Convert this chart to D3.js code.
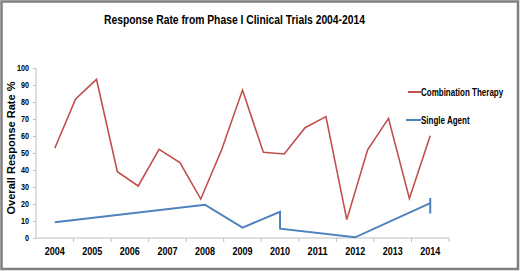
<!DOCTYPE html>
<html lang="en">
<head>
  <meta charset="UTF-8">
  <title>Response Rate from Phase I Clinical Trials 2004-2014</title>
  <script src="https://d3js.org/d3.v7.min.js"></script>
  <style>
    body { margin: 0; background: #fff; }
    svg { display: block; font-family: "Liberation Sans", Arial, sans-serif; font-weight: bold; }
  </style>
</head>
<body>
  <div id="chart"></div>
  <script>
    // years on the category axis
    const years = ["2004", "2005", "2006", "2007", "2008", "2009", "2010", "2011", "2012", "2013", "2014"];
    const yTicks = [0, 10, 20, 30, 40, 50, 60, 70, 80, 90, 100];

    // combination therapy: 19 evenly spaced readings over 2004-2014
    const comboValues = [52.8, 81.8, 93.3, 39, 30.6, 52.2, 44.3, 22.9, 51.9, 87,
                         50.4, 49.4, 64.9, 71.4, 10.8, 51.9, 70.4, 23.3, 60.2];

    // single agent: [year, value]
    const singleYears  = [2004, 2008, 2009, 2010, 2010, 2012, 2014, 2014, 2014];
    const singleValues = [9.2, 19.6, 6.1, 15.4, 5.5, 0.4, 20.5, 23.5, 14.4];

    const W = 520, H = 271;
    const plot = { left: 36, right: 449, top: 68, bottom: 238 };

    const svg = d3.select("#chart").append("svg")
      .attr("width", W).attr("height", H);

    // frame
    svg.append("rect")
      .attr("x", 1.5).attr("y", 1.5)
      .attr("width", W - 3.5).attr("height", H - 3.5)
      .attr("fill", "#fff").attr("stroke", "#7f7f7f").attr("stroke-width", 2.5);

    // narrow look: squeeze text to the width measured on the reference
    function squeeze(sel, w) {
      sel.attr("textLength", w).attr("lengthAdjust", "spacingAndGlyphs");
    }

    const x = d3.scaleBand().domain(years).range([plot.left, plot.right]);
    const xYear = d3.scaleLinear()
      .domain([2004, 2014])
      .range([x("2004") + x.bandwidth() / 2, x("2014") + x.bandwidth() / 2]);
    const xCombo = d3.scalePoint()
      .domain(d3.range(comboValues.length))
      .range(xYear.range());
    const y = d3.scaleLinear().domain([0, 100]).range([plot.bottom, plot.top]);

    // y axis
    const yAxis = svg.append("g")
      .attr("transform", `translate(${plot.left},0)`)
      .call(d3.axisLeft(y).tickValues(yTicks).tickSize(3).tickPadding(4));
    yAxis.selectAll("line, path").attr("stroke", "#bfbfbf");
    yAxis.select(".domain").attr("d", `M0,${plot.top}V${plot.bottom}`);
    yAxis.selectAll("text")
      .attr("fill", "#000")
      .style("font-size", "8.5px")
      .each(function(d) { squeeze(d3.select(this), String(d).length * 4); });

    // x axis: labels at band centres, ticks at band edges
    const xAxis = svg.append("g")
      .attr("transform", `translate(0,${plot.bottom})`)
      .call(d3.axisBottom(x).tickSize(0).tickPadding(10));
    xAxis.select(".domain").attr("stroke", "#bfbfbf").attr("d", `M${plot.left},0H${plot.right}`);
    xAxis.selectAll("text")
      .attr("fill", "#000")
      .style("font-size", "10px")
      .call(squeeze, 20);
    xAxis.selectAll(".edge")
      .data(years)
      .enter().append("line")
      .attr("class", "edge")
      .attr("x1", (d, i) => plot.left + x.step() * (i + 1))
      .attr("x2", (d, i) => plot.left + x.step() * (i + 1))
      .attr("y1", 0).attr("y2", 4)
      .attr("stroke", "#bfbfbf");

    // lines
    svg.append("path")
      .datum(comboValues)
      .attr("fill", "none")
      .attr("stroke", "#c0504d")
      .attr("stroke-width", 1.6)
      .attr("d", d3.line().x((d, i) => xCombo(i)).y(d => y(d)));

    svg.append("path")
      .datum(singleValues)
      .attr("fill", "none")
      .attr("stroke", "#4f81bd")
      .attr("stroke-width", 2)
      .attr("d", d3.line().x((d, i) => xYear(singleYears[i])).y(d => y(d)));

    // title
    svg.append("text")
      .attr("x", 104).attr("y", 24)
      .style("font-size", "13px")
      .text("Response Rate from Phase I Clinical Trials 2004-2014")
      .call(squeeze, 261);

    // y axis title
    svg.append("text")
      .attr("transform", "translate(15,148) rotate(-90)")
      .attr("text-anchor", "middle")
      .style("font-size", "10.5px")
      .text("Overall Response Rate %")
      .call(squeeze, 133);

    // legend
    const legend = [
      { name: "Combination Therapy", color: "#c0504d", y: 92, x0: 408 },
      { name: "Single Agent", color: "#4f81bd", y: 120, x0: 406 }
    ];
    const lg = svg.append("g");
    lg.selectAll("line").data(legend).enter().append("line")
      .attr("x1", d => d.x0).attr("x2", 421)
      .attr("y1", d => d.y).attr("y2", d => d.y)
      .attr("stroke", d => d.color).attr("stroke-width", 2);
    lg.selectAll("text").data(legend).enter().append("text")
      .attr("transform", d => `translate(421,${d.y + 3.5}) scale(0.8,1)`)
      .style("font-size", "10px")
      .text(d => d.name);
  </script>
</body>
</html>
